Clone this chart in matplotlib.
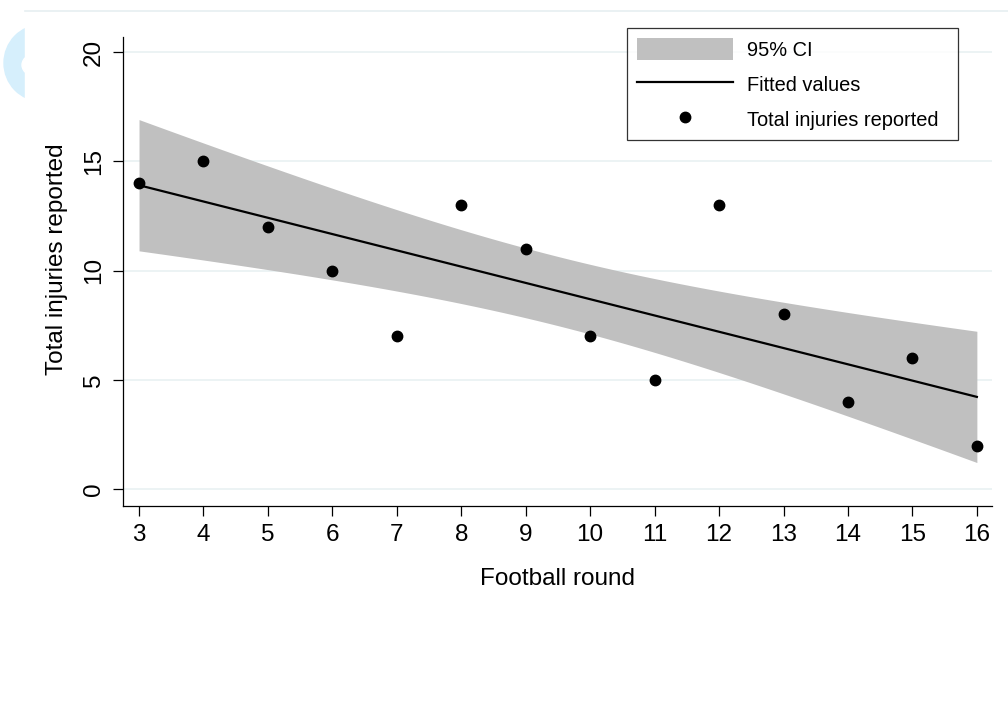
import numpy as np
import matplotlib
matplotlib.use("Agg")
from matplotlib import pyplot as plt
from matplotlib.patches import Ellipse, Rectangle
from matplotlib.lines import Line2D

rounds = [3, 4, 5, 6, 7, 8, 9, 10, 11, 12, 13, 14, 15, 16]
injuries = [14, 15, 12, 10, 7, 13, 11, 7, 5, 13, 8, 4, 6, 2]
y_ticks = [0, 5, 10, 15, 20]
t_crit = 2.1788  # t(0.975, df=12)

plt.rcParams['font.family'] = ['Liberation Sans', 'DejaVu Sans']

# linear fit + 95% CI of the mean prediction (like Stata lfitci)
x = np.array(rounds, dtype=float)
y = np.array(injuries, dtype=float)
n = len(x)
slope, icpt = np.polyfit(x, y, 1)
resid = y - (icpt + slope * x)
s = np.sqrt(np.sum(resid ** 2) / (n - 2))
sxx = np.sum((x - x.mean()) ** 2)
xg = np.linspace(x.min(), x.max(), 100)
fit = icpt + slope * xg
se = s * np.sqrt(1.0 / n + (xg - x.mean()) ** 2 / sxx)
lo, hi = fit - t_crit * se, fit + t_crit * se

fig = plt.figure(figsize=(10.08, 7.25), dpi=100)
W, H = 1008.0, 725.0

# bits of the page behind the graph
fig.patches.append(Ellipse((41 / W, 1 - 63 / H), 74 / W, 76 / H,
                           transform=fig.transFigure, color='#d6effc', zorder=-3))
fig.patches.append(Ellipse((41 / W, 1 - 65 / H), 38 / W, 26 / H,
                           transform=fig.transFigure, color='white', zorder=-3))
fig.patches.append(Rectangle((25 / W, 0), 1, 1 - 10.5 / H,
                             transform=fig.transFigure, color='white', zorder=-2))
fig.lines.append(Line2D([25 / W, 1], [1 - 10.5 / H, 1 - 10.5 / H],
                        transform=fig.transFigure, color='#e6eff1', lw=1.2, zorder=-1))

ax = fig.add_axes([123.3 / W, 1 - 505.7 / H, (991.7 - 123.3) / W, (505.7 - 36.7) / H])
ax.patch.set_alpha(0)

for t in y_ticks:
    ax.axhline(t, color='#eaf2f3', lw=1.3, zorder=0)

ax.fill_between(xg, lo, hi, color='#c0c0c0', lw=0, zorder=1, label='95% CI')
ax.plot(xg, fit, color='black', lw=1.6, zorder=2, label='Fitted values')
ax.plot(rounds, injuries, 'o', color='black', ms=7.5, zorder=3,
        label='Total injuries reported')

ax.set_xlim(2.756, 16.23)
ax.set_ylim(-0.75, 20.71)
ax.set_xticks(rounds)
ax.set_yticks(y_ticks)
for side in ['top', 'right']:
    ax.spines[side].set_visible(False)
for side in ['left', 'bottom']:
    ax.spines[side].set_linewidth(0.9)
ax.tick_params(axis='both', length=7, width=0.9, labelsize=17.5, pad=6)
plt.setp(ax.get_yticklabels(), rotation=90, va='center')

ax.set_xlabel('Football round', fontsize=17.5, labelpad=16)
ax.set_ylabel('Total injuries reported', fontsize=17.5)
ax.yaxis.set_label_coords((68 - 123.3) / 868.4, (505.7 - 259) / 469.0)

leg = ax.legend(loc='upper left', bbox_to_anchor=(627 / W, 1 - 28 / H, 331 / W, 0),
                bbox_transform=fig.transFigure, mode='expand', fontsize=14.4,
                frameon=True, fancybox=False, borderpad=0.5, borderaxespad=0,
                handlelength=4.8, handleheight=1.35, handletextpad=0.7,
                labelspacing=0.62, numpoints=1)
leg.get_frame().set_edgecolor('black')
leg.get_frame().set_linewidth(0.9)

fig.savefig('out.png', dpi=100)
